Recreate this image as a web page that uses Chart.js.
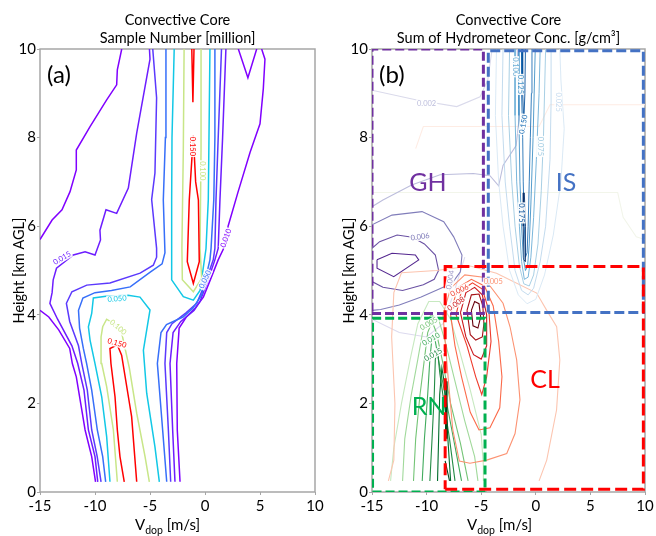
<!DOCTYPE html>
<html><head><meta charset="utf-8">
<script src="https://cdn.jsdelivr.net/npm/chart.js@4/dist/chart.umd.min.js"></script>
<style>
html,body{margin:0;padding:0;background:#fff;width:656px;height:536px;overflow:hidden}
#ca{position:absolute;left:0;top:0}
#cb{position:absolute;left:328px;top:0}
</style></head><body>
<canvas id="ca" width="328" height="536"></canvas>
<canvas id="cb" width="328" height="536"></canvas>
<script>
// ---------- axes ----------
const xTickVals = [-15, -10, -5, 0, 5, 10];
const yTickVals = [0, 2, 4, 6, 8, 10];

// ---------- panel (a): sample number contours [v, h] ----------
const a010_left  = [[-9.95,0.23],[-10.3,0.8],[-10.9,1.4],[-11.3,2.0],[-11.7,2.6],[-12.06,2.9],[-12.3,3.24],[-13.3,3.66],[-14.2,3.95],[-15,4.1]];
const a010_top   = [[-15,5.7],[-13.9,6.14],[-13.0,6.37],[-12.27,6.78],[-11.7,7.27],[-11.7,7.72],[-10.45,8.25],[-8.94,8.85],[-8.03,9.19],[-7.97,9.53],[-7.57,10]];
const a010_right = [[-2.27,0.23],[-2.52,1.4],[-2.57,2.9],[-2.35,3.7],[-1.7,3.95],[-0.9,4.15],[-0.15,4.4],[0.5,4.8],[1.2,5.24],[1.8,5.55],[2.1,6.0],[3.0,6.77],[4.1,7.67],[5.0,8.31],[5.3,9.1],[5.45,9.77],[5.15,10]];
const a010_notch = [[3.03,10],[3.9,9.35],[4.7,10]];
const a015_left  = [[-9.75,0.23],[-10.0,0.8],[-10.6,1.4],[-11.0,2.3],[-11.57,2.9],[-12.1,3.3],[-13.4,3.9],[-14.1,4.26],[-13.9,4.5],[-13.8,4.79],[-13.5,5.05],[-11.97,5.35],[-10.9,5.42],[-10.0,5.35],[-9.5,5.69],[-9.55,5.91],[-9.0,6.37],[-8.03,6.29],[-6.97,6.86],[-6.21,8.1],[-5.0,9.77],[-5.05,10]];
const a015_right = [[-2.73,0.23],[-2.94,1.4],[-3.18,2.9],[-2.9,3.6],[-2.2,3.85],[-1.0,4.1],[-0.45,4.3],[0.3,4.8],[0.9,5.24],[1.2,5.5],[1.36,6.6],[1.6,8.0],[1.9,10]];
const a020_left  = [[-9.45,0.23],[-9.8,0.8],[-10.3,1.4],[-10.7,2.3],[-11.2,2.9],[-11.5,3.3],[-12.3,3.85],[-12.6,4.26],[-12.1,4.52],[-10.75,4.67],[-8.64,4.72],[-5.9,4.94],[-4.7,5.12],[-4.4,5.3],[-4.4,5.5],[-4.85,6.6],[-4.55,7.2],[-4.4,8.9],[-4.75,10]];
const a020_right = [[-3.12,0.23],[-3.33,1.4],[-3.64,2.9],[-3.48,3.6],[-3.0,3.8],[-1.7,4.05],[-0.75,4.26],[0.0,4.7],[0.75,5.24],[0.9,5.5],[1.0,6.6],[1.2,8.0],[1.5,10]];
const a030_left  = [[-9.03,0.23],[-9.3,0.8],[-9.79,1.4],[-10.3,2.3],[-10.76,2.9],[-11.06,3.24],[-11.4,3.7],[-11.5,4.1],[-11.1,4.38],[-10.0,4.5],[-8.5,4.55],[-6.8,4.63],[-4.95,4.97],[-3.9,5.15],[-3.64,5.4],[-3.79,6.59],[-3.6,8.0],[-3.55,10]];
const a030_right = [[-3.48,0.23],[-3.85,1.4],[-4.33,2.9],[-4.0,3.6],[-3.5,3.78],[-2.0,3.95],[-1.1,4.15],[-0.3,4.45],[0.45,5.24],[0.55,5.5],[0.8,6.6],[0.9,8.0],[0.9,10]];
const a050_low   = [[-8.64,0.23],[-8.94,1.25],[-9.39,2.15],[-10.0,2.9],[-10.45,3.43],[-10.6,3.73],[-10.3,4.03],[-10.15,4.38],[-9.0,4.42],[-7.0,4.44],[-5.91,4.4],[-5.0,4.11],[-5.6,3.2],[-5.3,2.23],[-4.55,1.02],[-4.15,0.23]];
const a050_up    = [[-2.8,10],[-3.0,8],[-3.03,6.59],[-3.03,4.79],[-1.97,4.41],[-1.06,4.33],[-0.45,4.55],[0.09,5.49],[0.3,6.6],[0.45,10]];
const a100_low   = [[-7.97,0.23],[-8.33,1.4],[-8.94,2.38],[-9.39,2.9],[-9.45,3.5],[-9.3,3.73],[-8.94,3.9],[-8.09,3.77],[-7.58,3.6],[-6.88,2.8],[-6.21,1.78],[-5.45,0.8],[-5.06,0.23]];
const a100_up    = [[-1.9,10],[-1.97,7.74],[-2.1,5.5],[-2.06,4.79],[-1.06,4.52],[-0.3,4.82],[-0.45,5.49],[-0.36,7.74],[-0.36,10]];
const a150_low   = [[-7.34,0.23],[-7.73,0.8],[-7.97,1.4],[-8.18,2.15],[-8.55,2.9],[-8.64,3.24],[-7.97,3.32],[-7.58,3.09],[-6.82,1.93],[-6.67,1.7],[-6.21,0.23]];
const a150_up    = [[-1.06,8.04],[-0.85,7.0],[-0.6,6.59],[-0.52,5.2],[-1.06,4.71],[-1.61,5.2],[-1.43,6.59],[-1.25,7.3],[-1.06,8.04]];
const a150_top   = [[-1.2,10],[-1.1,8.8],[-1.0,10]];
const levelLabelsA = ['0.010','0.015','0.020','0.030','0.050','0.100','0.150'];

// ---------- panel (b): hydrometeor contours [v, h] ----------
const gh1 = [[-15,9.07],[-10.9,8.85],[-7.24,8.7],[-5.1,8.92],[-4.4,9.3],[-4.0,10]];
const gh2 = [[-15,6.44],[-14.0,6.59],[-11.37,6.93],[-8.77,7.16],[-5.72,7.19],[-4.2,7.14],[-3.4,6.91],[-3.0,7.37],[-1.8,7.82],[-1.5,8.5],[-1.7,10]];
const gh2b = [[-15,3.9],[-12.5,3.6],[-10,3.5],[-8.5,3.8],[-7.5,4.5],[-6.5,5.3]];
const gh3 = [[-15,6.03],[-13.17,6.25],[-10.42,6.33],[-8.43,6.1],[-7.52,5.76],[-6.76,5.35],[-6.91,4.97],[-7.67,4.71],[-9.05,4.56],[-10.5,4.4],[-12.5,4.22],[-14.2,4.12],[-15,4.1]];
const gh4 = [[-15,5.5],[-14.3,5.65],[-12.7,5.8],[-11.3,5.75],[-10.2,5.6],[-9.2,5.35],[-8.9,5.0],[-9.3,4.8],[-10.3,4.68],[-12.2,4.55],[-14.0,4.62],[-15,4.75]];
const gh5 = [[-14.54,5.24],[-13.17,5.39],[-11.03,5.35],[-10.72,5.24],[-13.01,4.86],[-14.54,5.05],[-14.54,5.24]];

const is1 = [[-3.6,10],[-3.7,8.5],[-3.4,7],[-3.0,6],[-2.4,5.0],[-1.6,4.45],[-0.8,4.25],[0.0,4.35],[0.8,4.9],[1.6,5.8],[2.3,7.0],[2.6,8.2],[2.3,9.3],[2.2,10]];
const is2 = [[-3.0,10],[-3.1,8.5],[-2.8,7],[-2.4,6],[-1.9,5.0],[-1.3,4.55],[-0.7,4.45],[-0.2,4.6],[0.4,5.2],[0.9,6.0],[1.3,7.5],[1.4,8.8],[1.4,10]];
const is3 = [[-2.4,10],[-2.5,8.5],[-2.2,7],[-1.9,6],[-1.5,5.1],[-1.1,4.7],[-0.6,4.65],[-0.2,4.9],[0.2,5.6],[0.5,6.8],[0.7,8.0],[0.9,10]];
const is4 = [[-1.9,10],[-1.9,8.5],[-1.75,7],[-1.5,6],[-1.3,5.2],[-1.05,4.8],[-0.7,4.85],[-0.45,5.3],[-0.2,6.2],[0.05,7.5],[0.3,9],[0.4,10]];
const is5 = [[-1.55,10],[-1.55,8.5],[-1.45,7],[-1.3,6],[-1.15,5.3],[-0.95,5.0],[-0.75,5.1],[-0.6,5.6],[-0.45,6.5],[-0.25,8],[-0.05,10]];
const is6 = [[-1.3,10],[-1.3,9],[-1.2,8],[-1.15,7],[-1.05,6],[-0.95,5.3],[-0.8,5.4],[-0.7,6],[-0.6,7],[-0.5,8],[-0.4,9],[-0.35,10]];
const is7a = [[-1.12,6.75],[-1.15,6.0],[-1.08,5.25],[-0.98,5.2],[-0.95,6.0],[-1.05,6.75],[-1.12,6.75]];
const is7b = [[-1.25,10],[-1.2,9],[-1.1,8.35],[-1.0,9],[-0.95,10]];

const cl1 = [[-13.5,0.25],[-13.0,0.72],[-12.9,2.0],[-13.2,3.5],[-13.0,4.5],[-12.3,4.95],[-9.1,5.0],[-6.0,5.1],[-3.6,4.94],[0.08,4.49],[1.0,4.1],[1.91,3.73],[2.2,2.98],[1.9,1.85],[1.0,0.72],[0.3,0.25]];
const cl2 = [[-8.5,4.0],[-7.8,4.6],[-6.5,4.9],[-4.8,4.85],[-3.0,4.26],[-2.36,3.73],[-1.75,2.98],[-1.45,2.08],[-1.9,1.32],[-2.66,0.87],[-4.5,0.72],[-6.03,0.65],[-7.0,0.7],[-7.6,1.4],[-8.0,2.5],[-8.5,4.0]];
const cl3 = [[-7.8,4.0],[-7.2,4.6],[-5.9,4.8],[-4.7,4.65],[-3.9,4.2],[-3.4,3.4],[-3.1,2.6],[-3.3,1.9],[-4.2,1.45],[-5.2,1.4],[-6.0,1.8],[-6.8,2.6],[-7.4,3.3],[-7.8,4.0]];
const cl4 = [[-7.3,4.0],[-6.8,4.55],[-5.8,4.72],[-4.9,4.58],[-4.3,4.1],[-4.1,3.4],[-4.5,2.6],[-4.95,2.2],[-5.5,2.6],[-6.3,3.3],[-7.3,4.0]];
const cl5 = [[-6.9,4.05],[-6.4,4.5],[-5.6,4.62],[-4.9,4.45],[-4.5,4.0],[-4.5,3.3],[-5.0,3.0],[-5.7,3.1],[-6.4,3.5],[-6.9,4.05]];
const cl6 = [[-6.3,4.1],[-5.9,4.45],[-5.2,4.47],[-4.85,4.2],[-4.75,3.8],[-4.9,3.5],[-5.5,3.43],[-6.0,3.55],[-6.3,4.1]];
const cl7 = [[-5.9,4.1],[-5.6,4.3],[-5.2,4.25],[-5.05,3.95],[-5.3,3.7],[-5.75,3.75],[-5.9,4.1]];

const rn1 = [[-13.3,0.25],[-13.0,1.0],[-12.3,2.0],[-11.5,3.0],[-10.8,3.8],[-9.8,4.3],[-8.8,4.3],[-7.8,3.9],[-7.0,3.2],[-6.0,2.3],[-5.0,1.3],[-4.8,0.6],[-4.8,0.25]];
const rn2 = [[-12.2,0.25],[-12.0,1.2],[-11.4,2.2],[-10.8,3.0],[-10.3,3.7],[-9.6,4.0],[-8.9,3.9],[-8.3,3.4],[-7.5,2.6],[-6.5,1.6],[-5.6,0.8],[-5.3,0.25]];
const rn3 = [[-11.2,0.25],[-11.0,1.2],[-10.6,2.2],[-10.2,3.0],[-9.9,3.6],[-9.5,3.85],[-9.1,3.6],[-8.5,2.9],[-7.8,2.0],[-6.9,1.1],[-6.2,0.25]];
const rn4 = [[-10.4,0.25],[-10.2,1.2],[-9.9,2.2],[-9.7,3.0],[-9.5,3.5],[-9.2,3.4],[-8.7,2.7],[-8.0,1.8],[-7.3,0.9],[-6.8,0.25]];
const rn5 = [[-9.7,0.25],[-9.5,1.2],[-9.3,2.2],[-9.2,3.0],[-9.0,3.2],[-8.8,2.7],[-8.4,2.0],[-7.9,1.2],[-7.4,0.25]];
const rn6 = [[-9.0,0.25],[-8.9,1.2],[-8.8,2.2],[-8.6,2.8],[-8.4,2.5],[-8.2,1.8],[-8.0,1.0],[-7.8,0.25]];
const rn7a = [[-8.25,1.2],[-8.2,2.5],[-8.15,1.2]];
const rn7b = [[-8.3,0.7],[-7.9,0.25]];

const faintPeach = [[-11.0,7.75],[-10.3,8.25],[-4.5,8.25],[0.3,8.25],[1.3,8.74],[10,8.74]];
const faintPale  = [[-15,6.76],[-4.5,6.76],[3,6.76],[7.5,6.76],[8.0,6.2],[9.2,5.76],[10,5.7]];

// region boxes [v0, h0, v1, h1]
const boxGH = [-15, 4.03, -4.8, 10];
const boxIS = [-4.35, 4.05, 9.85, 9.96];
const boxCL = [-8.3, 0.06, 9.85, 5.09];
const boxRN = [-14.95, 0.0, -4.65, 3.92];

// ---------- helpers ----------
function pts(a){ return a.map(p => ({x:p[0], y:p[1]})); }
function ln(a, color, w, dash){
  return {data: pts(a), borderColor: color, backgroundColor: color, borderWidth: w, borderDash: dash || [],
          showLine: true, pointRadius: 0, pointHoverRadius: 0, fill: false, tension: 0};
}
function rect(b){ return [[b[0],b[1]],[b[2],b[1]],[b[2],b[3]],[b[0],b[3]],[b[0],b[1]]]; }

const cA = ['#8000ff','#6d1dff','#5b39fd','#376ff9','#12c8e6','#c8e688','#ff0000'];
const wA = 1.5;
const dsA = [
  ln(a150_low,cA[6],wA), ln(a150_up,cA[6],wA), ln(a150_top,cA[6],wA),
  ln(a100_low,cA[5],wA), ln(a100_up,cA[5],wA),
  ln(a050_low,cA[4],wA), ln(a050_up,cA[4],wA),
  ln(a030_left,cA[3],wA), ln(a030_right,cA[3],wA),
  ln(a020_left,cA[2],wA), ln(a020_right,cA[2],wA),
  ln(a015_left,cA[1],wA), ln(a015_right,cA[1],wA),
  ln(a010_left,cA[0],wA), ln(a010_top,cA[0],wA), ln(a010_right,cA[0],wA), ln(a010_notch,cA[0],wA)
];

const wB = 1.1, wI = 0.9;
const dsB = [
  ln(rect(boxCL),'#ff0000',3,[12,5]),
  ln(rect(boxIS),'#4472c4',3,[10,4]),
  ln(rect(boxGH),'#7030a0',3,[9,4]),
  ln(rect(boxRN),'#00b050',3,[9,4]),
  ln(is7a,'#08306b',wI), ln(is7b,'#08519c',wI), ln(is6,'#2171b5',wI), ln(is5,'#4292c6',wI),
  ln(is4,'#6baed6',wI), ln(is3,'#9ecae1',wI), ln(is2,'#bcd7ec',wI), ln(is1,'#d6e6f4',wI),
  ln(cl7,'#67000d',wB), ln(cl6,'#a50f15',wB), ln(cl5,'#cb181d',wB), ln(cl4,'#ef3b2c',wB),
  ln(cl3,'#fb6a4a',wB), ln(cl2,'#fc9272',wB), ln(cl1,'#fcc5b0',wB),
  ln(rn7a,'#00441b',1.6), ln(rn7b,'#00441b',wB), ln(rn6,'#006d2c',wB), ln(rn5,'#238b45',wB), ln(rn4,'#41ab5d',wB),
  ln(rn3,'#74c476',wB), ln(rn2,'#a1d99b',wB), ln(rn1,'#c7e9c0',wB),
  ln(gh5,'#54278f',wB), ln(gh4,'#6a51a3',wB), ln(gh3,'#807dba',wB), ln(gh2,'#bcbddc',wB), ln(gh2b,'#dcdaee',wB), ln(gh1,'#dadaeb',wB),
  ln(faintPeach,'#feece4',wB), ln(faintPale,'#f2f5ea',wB)
];

// contour labels: [text, v, h, rotation, color]
const labelsA = [
  ['0.015',-13.0,5.28,-30,cA[1]], ['0.010',1.9,5.73,-70,cA[0]], ['0.050',-8.0,4.36,-5,cA[4]],
  ['0.100',-7.9,3.72,40,cA[5]], ['0.150',-8.0,3.36,15,cA[6]], ['0.150',-1.1,7.8,90,cA[6]],
  ['0.100',-0.27,7.25,90,cA[5]], ['0.050',0.0,4.8,-65,cA[3]]
];
const labelsB = [
  ['0.002',-10.0,8.77,0,'#bcbddc'], ['0.006',-10.6,5.76,-8,'#807dba'], ['0.004',-7.83,4.79,-80,'#9e9ac8'],
  ['0.100',-1.9,9.6,90,'#6baed6'], ['0.125',-1.45,9.2,90,'#4292c6'], ['0.150',-1.14,8.3,-80,'#2171b5'],
  ['0.075',0.38,7.8,90,'#9ecae1'], ['0.025',2.06,8.8,90,'#c6dbef'], ['0.175',-1.3,6.3,90,'#08519c'],
  ['0.005',-3.9,4.75,0,'#fc9272'], ['0.006',-7.0,4.55,-25,'#ef3b2c'], ['0.008',-7.3,4.25,-35,'#cb181d'],
  ['0.005',-9.8,3.8,-30,'#74c476'], ['0.010',-9.6,3.45,-30,'#41ab5d'], ['0.015',-9.4,3.1,-30,'#238b45']
];
const regionsB = [['GH',-9.87,6.98,'#7030a0'],['IS',2.77,6.98,'#4472c4'],['CL',0.84,2.53,'#ff0000'],['RN',-9.78,1.92,'#00b050']];

function decor(cfg){
  return {
    id: 'decor',
    beforeDatasetsDraw(chart){
      const {ctx, chartArea:a} = chart;
      ctx.save(); ctx.strokeStyle = '#a6a6a6'; ctx.lineWidth = 1.5;
      ctx.strokeRect(a.left, a.top, a.right - a.left, a.bottom - a.top); ctx.restore();
    },
    afterDatasetsDraw(chart){
      const {ctx, scales:{x, y}} = chart;
      ctx.save();
      cfg.labels.forEach(l => {
        const px = x.getPixelForValue(l[1]), py = y.getPixelForValue(l[2]);
        ctx.save(); ctx.translate(px, py); ctx.rotate(l[3]*Math.PI/180);
        ctx.font = '7.5px Lato'; const w = ctx.measureText(l[0]).width;
        ctx.fillStyle = 'rgba(255,255,255,0.9)'; ctx.fillRect(-w/2-1, -4, w+2, 8);
        ctx.fillStyle = l[4]; ctx.textAlign = 'center'; ctx.textBaseline = 'middle';
        ctx.fillText(l[0], 0, 0); ctx.restore();
      });
      (cfg.regions || []).forEach(r => {
        ctx.font = '25px Lato'; ctx.fillStyle = r[3]; ctx.textAlign = 'center'; ctx.textBaseline = 'middle';
        ctx.fillText(r[0], x.getPixelForValue(r[1]), y.getPixelForValue(r[2]));
      });
      ctx.restore();
    },
    afterDraw(chart){
      const {ctx, chartArea:a} = chart;
      const cx = (a.left + a.right) / 2;
      ctx.save(); ctx.fillStyle = '#000'; ctx.textAlign = 'center'; ctx.textBaseline = 'middle';
      ctx.font = '14.5px Lato';
      ctx.fillText(cfg.title[0], cx, 20);
      ctx.fillText(cfg.title[1], cx, 38);
      ctx.textAlign = 'left'; ctx.textBaseline = 'alphabetic';
      ctx.font = '24px Lato';
      ctx.fillText(cfg.panel, a.left + 7, 83);
      let x0 = a.left + 95;
      ctx.font = '15px Lato'; ctx.fillText('V', x0, 530); x0 += ctx.measureText('V').width;
      ctx.font = '10.5px Lato'; ctx.fillText('dop', x0, 534); x0 += ctx.measureText('dop').width;
      ctx.font = '15px Lato'; ctx.fillText(' [m/s]', x0, 530);
      ctx.restore();
    }
  };
}

function makeChart(id, datasets, cfg){
  return new Chart(document.getElementById(id), {
    type: 'scatter',
    data: {datasets},
    options: {
      responsive: false, animation: false, devicePixelRatio: 1,
      layout: {padding: {left: 0, right: cfg.padRight, top: 49, bottom: 0}},
      plugins: {legend: {display: false}, tooltip: {enabled: false}, title: {display: false}},
      events: [],
      scales: {
        x: {type: 'linear', min: -15, max: 10,
            afterBuildTicks: s => { s.ticks = xTickVals.map(v => ({value: v})); },
            afterFit: s => { s.height = 44; },
            grid: {display: true, drawOnChartArea: false, tickLength: 3, color: '#a6a6a6'},
            border: {display: false},
            ticks: {color: '#000', font: {family: 'Lato', size: 15}, padding: 2, maxRotation: 0, autoSkip: false}},
        y: {type: 'linear', min: 0, max: 10,
            afterBuildTicks: s => { s.ticks = yTickVals.map(v => ({value: v})); },
            afterFit: s => { s.width = cfg.yWidth; },
            grid: {display: true, drawOnChartArea: false, tickLength: 3, color: '#a6a6a6'},
            border: {display: false},
            title: {display: true, text: 'Height [km AGL]', color: '#000', font: {family: 'Lato', size: 14.5},
                    padding: {top: cfg.titlePad, bottom: 0}},
            ticks: {color: '#000', font: {family: 'Lato', size: 15}, padding: 1, autoSkip: false}}
      }
    },
    plugins: [decor(cfg)]
  });
}

makeChart('ca', dsA, {padRight: 13, yWidth: 40, titlePad: 10.5, panel: '(a)',
  title: ['Convective Core', 'Sample Number [million]'], labels: labelsA});
makeChart('cb', dsB, {padRight: 11, yWidth: 44, titlePad: 12.5, panel: '(b)',
  title: ['Convective Core', 'Sum of Hydrometeor Conc. [g/cm\u00B3]'], labels: labelsB, regions: regionsB});
</script></body></html>
